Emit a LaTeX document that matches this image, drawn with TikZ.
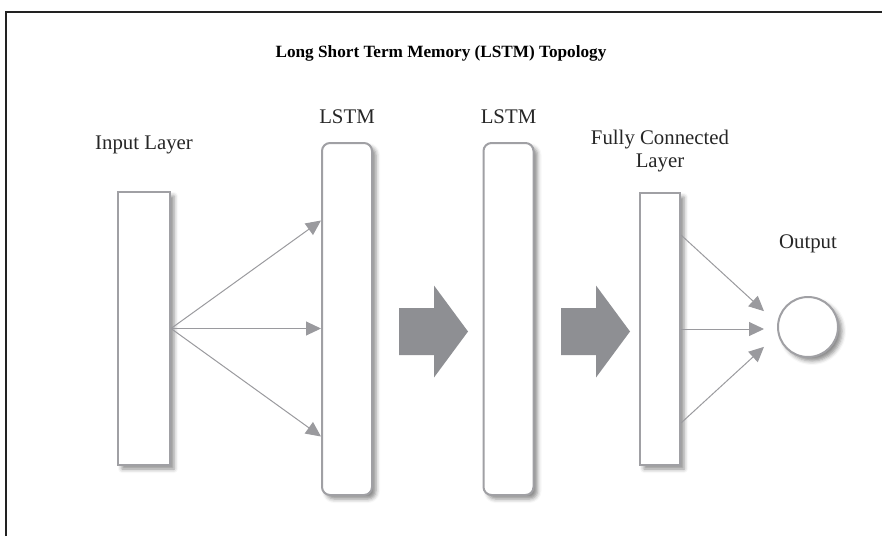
\documentclass[tikz,border=0pt]{standalone}
\usepackage{fontspec}
\setmainfont{Liberation Serif}
\usepackage{tikz}
\usetikzlibrary{positioning, arrows.meta, calc, shadows.blur}
\definecolor{boxgray}{HTML}{A0A0A4}
\definecolor{linegray}{HTML}{9A9A9E}
\definecolor{fillgray}{HTML}{8E8F93}
\definecolor{framegray}{HTML}{222222}

\tikzset{
  layer/.style={rectangle, draw=boxgray, line width=1pt, fill=white, inner sep=0pt,
    blur shadow={shadow xshift=2pt, shadow yshift=-2pt, shadow blur radius=2pt, shadow opacity=45}},
  lstmbox/.style={layer, rounded corners=4pt, minimum width=25pt, minimum height=176pt},
  lbl/.style={inner sep=0pt, font=\fontsize{10.4}{11.5}\selectfont, text=black!85},
  conn/.style={draw=linegray, line width=0.5pt, -{Triangle[length=7.5pt, width=7pt]}}
}

% big block arrow between layers, #1 = left end, #2 = middle height
\newcommand{\flowarrow}[2]{%
  \fill[fillgray] (#1,#2) ++(0,-23.5) -- ++(35,0) -- ++(0,-22.5) -- ++(34,46)
    -- ++(-34,46) -- ++(0,-22.5) -- ++(-35,0) -- cycle;}

\begin{document}
\begin{tikzpicture}[x=0.5pt, y=-0.5pt]
	\useasboundingbox (0,0) rectangle (882,536);
	\draw[framegray, line width=1pt] (5.5,536) -- (5.5,11.5) -- (882,11.5);
	
	\node[anchor=base, inner sep=0pt, font=\bfseries\fontsize{8.6}{10}\selectfont] (title) at (441,57) {Long Short Term Memory (LSTM) Topology};
	
	\node[layer, minimum width=26pt, minimum height=136.5pt] (inp) at (144,328.5) {};
	\node[lstmbox] (lstma) at (347,319) {};
	\node[lstmbox] (lstmb) at (508.5,319) {};
	\node[layer, minimum width=20pt, minimum height=136pt] (fc) at (660,329) {};
	\node[layer, circle, minimum size=30pt] (out) at (808,327) {};
	
	\node[lbl, above=21pt of inp, anchor=base] (inplbl) {Input Layer};
	\node[lbl, above=9.5pt of lstma, anchor=base] (lstmalbl) {LSTM};
	\node[lbl, above=9.5pt of lstmb, anchor=base] (lstmblbl) {LSTM};
	\node[lbl, align=center, above=12.5pt of fc, anchor=base] (fclbl) {Fully Connected\\Layer};
	\node[lbl, above=24pt of out, anchor=base] (outlbl) {Output};
	
	\flowarrow{399}{331.5}
	\flowarrow{561}{331.5}
	
	\foreach \dy in {54,0,-54}
		\draw[conn] (inp.east) -- ($(inp.east -| lstma.west)+(0,\dy pt)$);
	\foreach \dy in {47,0,-47}
		\draw[conn] ($(fc.east)+(0,\dy pt)$) -- ($(fc.east -| out.west)+(-6.5pt,0.19*\dy pt)$);
	
\end{tikzpicture}
\end{document}
